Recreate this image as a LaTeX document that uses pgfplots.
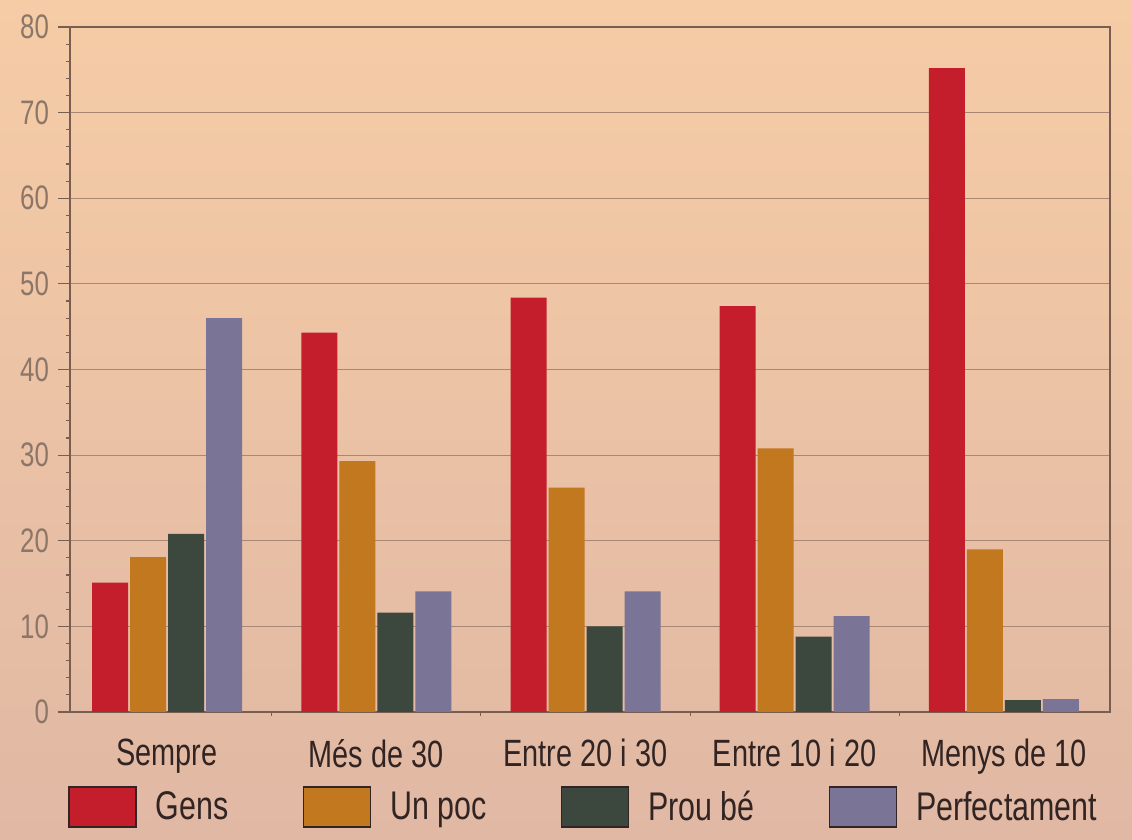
\documentclass[border=0pt]{standalone}
\usepackage{fontspec}
\setmainfont{Liberation Sans}[FakeStretch=0.76]
\usepackage{pgfplots}
\pgfplotsset{compat=1.18}

\definecolor{gens}{RGB}{196,30,44}
\definecolor{unpoc}{RGB}{194,120,30}
\definecolor{proube}{RGB}{60,72,62}
\definecolor{perfect}{RGB}{122,116,150}
\definecolor{gridc}{RGB}{168,136,116}
\definecolor{axisc}{RGB}{120,94,80}
\definecolor{tickc}{RGB}{140,118,104}
\definecolor{labc}{RGB}{50,36,34}

\begin{document}
\begin{tikzpicture}
% paper background
\path[use as bounding box, top color={rgb,255:red,246;green,204;blue,166},
      bottom color={rgb,255:red,224;green,184;blue,164}]
      (-35pt,-64pt) rectangle (531pt,356pt);
\begin{axis}[
    scale only axis,
    width=520pt, height=342.5pt,
    ybar=1pt, bar width=18pt,
    xmin=-0.464, xmax=4.507,
    ymin=0, ymax=80,
    xtick={0,1,2,3,4},
    xticklabels={Sempre, Més de 30, Entre 20 i 30, Entre 10 i 20, Menys de 10},
    minor xtick={0.5,1.5,2.5,3.5},
    ytick={0,10,...,80},
    minor y tick num=4,
    xtick pos=bottom, ytick pos=left,
    major x tick style={draw=none},
    tick align=outside,
    major tick length=6pt, minor tick length=2pt,
    tick style={axisc, line width=0.6pt},
    axis line style={axisc, line width=0.7pt},
    ymajorgrids, grid style={gridc, line width=0.6pt},
    /pgf/number format/assume math mode=true,
    yticklabel style={font=\fontsize{17}{18}\selectfont, text=tickc, xshift=-1pt},
    xticklabel style={font=\fontsize{19}{20}\selectfont, text=labc, yshift=-4pt},
    legend columns=4,
    area legend,
    legend image code/.code={\draw[#1, draw=labc, line width=0.8pt] (0pt,-10pt) rectangle (33.5pt,10pt);},
    legend style={at={(0,0)}, anchor=north west, xshift=-1pt, yshift=-37pt,
        draw=none, fill=none, inner sep=0pt,
        font=\fontsize{20}{22}\selectfont, text=labc,
        /tikz/every even column/.append style={column sep=35pt},
        /tikz/every odd column/.append style={column sep=7.5pt}},
]
\addplot[fill=gens, draw=none] coordinates {(0,15.1) (1,44.3) (2,48.4) (3,47.4) (4,75.2)};
\addplot[fill=unpoc, draw=none] coordinates {(0,18.1) (1,29.3) (2,26.2) (3,30.8) (4,19.0)};
\addplot[fill=proube, draw=none] coordinates {(0,20.8) (1,11.6) (2,10.0) (3,8.8) (4,1.4)};
\addplot[fill=perfect, draw=none] coordinates {(0,46.0) (1,14.1) (2,14.1) (3,11.2) (4,1.5)};
\legend{Gens, Un poc, Prou bé, Perfectament}
\end{axis}
\end{tikzpicture}
\end{document}
